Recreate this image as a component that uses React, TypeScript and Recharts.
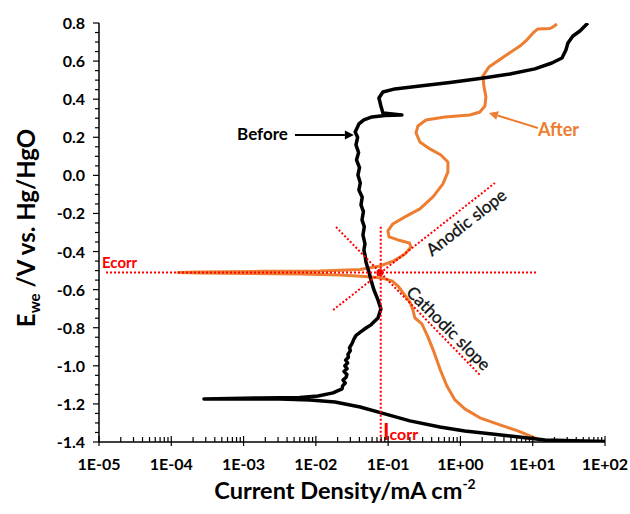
import React from "react"
import { LineChart, Line, XAxis, YAxis, ReferenceLine, ReferenceDot } from "recharts"

// Tafel plot, current density in mA cm-2 vs potential in V (Hg/HgO)
const beforeCurrent = [
  100, 38.4, 14.8, 6.04, 2.56, 1.15, 0.52, 0.2, 0.09, 0.041, 0.0184, 0.0083, 0.00318, 0.00089, 0.000283,
  0.00169, 0.006, 0.0107, 0.0173, 0.023, 0.0235, 0.0255, 0.0238, 0.0262, 0.0269, 0.0245, 0.027, 0.0252,
  0.0275, 0.0258, 0.0282, 0.0278, 0.03, 0.0292, 0.0315, 0.0336, 0.036, 0.0435, 0.05, 0.0578, 0.0723,
  0.0794, 0.0723, 0.0637, 0.0578, 0.0542, 0.0493, 0.048, 0.0462, 0.0478, 0.0448, 0.0468, 0.0435, 0.0455,
  0.0421, 0.0438, 0.0394, 0.0412, 0.0382, 0.0402, 0.0365, 0.039, 0.0359, 0.0378, 0.035, 0.0394, 0.0462,
  0.0597, 0.09, 0.155, 0.0847, 0.0794, 0.0746, 0.0847, 0.124, 0.275, 0.716, 1.86, 4.84, 10.7, 18.4, 25.4,
  28.8, 30.7, 36, 45, 58,
]
const beforePotential = [
  -1.397, -1.394, -1.389, -1.373, -1.357, -1.342, -1.321, -1.289, -1.252, -1.216, -1.19, -1.179, -1.174,
  -1.174, -1.174, -1.169, -1.166, -1.158, -1.142, -1.121, -1.105, -1.09, -1.075, -1.06, -1.045, -1.03,
  -1.015, -1.0, -0.985, -0.97, -0.955, -0.94, -0.92, -0.905, -0.885, -0.86, -0.84, -0.817, -0.8, -0.785,
  -0.749, -0.701, -0.654, -0.602, -0.549, -0.507, -0.455, -0.42, -0.392, -0.36, -0.313, -0.27, -0.234,
  -0.19, -0.155, -0.115, -0.077, -0.04, 0.002, 0.04, 0.081, 0.12, 0.16, 0.2, 0.228, 0.27, 0.291, 0.307,
  0.314, 0.317, 0.328, 0.364, 0.406, 0.438, 0.454, 0.469, 0.488, 0.509, 0.532, 0.559, 0.59, 0.616, 0.658,
  0.695, 0.732, 0.758, 0.8,
]

const afterCurrent = [
  19, 12.6, 9.14, 6.24, 3.52, 1.86, 1.15, 0.84, 0.65, 0.52, 0.43, 0.355, 0.293, 0.235, 0.22, 0.2, 0.166,
  0.137, 0.113, 0.082, 0.0478, 0.0215, 0.006, 0.00123, 0.00025, 0.000124, 0.00025, 0.00169, 0.0114, 0.041,
  0.077, 0.12, 0.171, 0.207, 0.197, 0.137, 0.103, 0.0993, 0.116, 0.171, 0.275, 0.417, 0.573, 0.671, 0.671,
  0.537, 0.378, 0.275, 0.243, 0.258, 0.333, 0.611, 1.35, 1.86, 2.18, 2.25, 2.11, 2.05, 2.48, 4.13, 6.65,
  8.05, 10.1, 11.8, 17.3, 19, 21.6,
]
const afterPotential = [
  -1.4, -1.389, -1.368, -1.342, -1.31, -1.273, -1.226, -1.179, -1.106, -1.016, -0.927, -0.848, -0.78,
  -0.749, -0.707, -0.665, -0.623, -0.581, -0.554, -0.539, -0.531, -0.523, -0.518, -0.515, -0.512, -0.51,
  -0.507, -0.504, -0.502, -0.494, -0.476, -0.449, -0.413, -0.376, -0.355, -0.339, -0.323, -0.292, -0.255,
  -0.218, -0.176, -0.113, -0.045, 0.018, 0.07, 0.107, 0.139, 0.175, 0.223, 0.259, 0.291, 0.307, 0.317,
  0.333, 0.364, 0.412, 0.469, 0.522, 0.569, 0.627, 0.679, 0.706, 0.748, 0.769, 0.771, 0.779, 0.795,
]

// Tafel analysis
const ecorr = -0.51
const icorr = 0.079
const anodicTangent = [{ x: 0.0173, y: -0.707 }, { x: 3.0, y: -0.04 }]
const cathodicTangent = [{ x: 0.019, y: -0.271 }, { x: 1.86, y: -1.048 }]

const xDecades = [1e-5, 1e-4, 1e-3, 1e-2, 1e-1, 1, 10, 100]
const yMajorTicks = [-1.4, -1.2, -1.0, -0.8, -0.6, -0.4, -0.2, 0.0, 0.2, 0.4, 0.6, 0.8]

const before = beforeCurrent.map((i, k) => ({ i, e: beforePotential[k] }))
const after = afterCurrent.map((i, k) => ({ i, e: afterPotential[k] }))

const xTicks = xDecades.flatMap((d, k) =>
  k === xDecades.length - 1 ? [d] : [1, 2, 3, 4, 5, 6, 7, 8, 9].map((m) => d * m)
)
const yTicks = yMajorTicks.flatMap((t, k) =>
  k === yMajorTicks.length - 1 ? [t] : [0, 0.05, 0.1, 0.15].map((s) => Math.round((t + s) * 100) / 100)
)

const FONT = "Lato, 'Open Sans', sans-serif"
const RED = "#ff0000"
const ORANGE = "#ED7D31"

function XTick({ x, y, payload }: any) {
  const v = payload.value
  const p = Math.log10(v)
  const major = Math.abs(p - Math.round(p)) < 1e-6
  const e = Math.round(p)
  const label = `1E${e < 0 ? "-" : "+"}${String(Math.abs(e)).padStart(2, "0")}`
  return (
    <g>
      <line x1={x} x2={x} y1={y - (major ? 6 : 5)} y2={y + (major ? 4 : 0)} stroke="#000" strokeWidth={1.2} />
      {major && (
        <text x={x} y={y + 28} textAnchor="middle" fontSize={16} fontWeight={700} fill="#000" fontFamily={FONT}>
          {label}
        </text>
      )}
    </g>
  )
}

function YTick({ x, y, payload }: any) {
  const v = payload.value
  const major = Math.abs(v * 5 - Math.round(v * 5)) < 1e-6
  return (
    <g>
      <line x1={x - (major ? 6 : 4)} x2={x} y1={y} y2={y} stroke="#000" strokeWidth={1.2} />
      {major && (
        <text x={x - 14} y={y + 6} textAnchor="end" fontSize={16} fontWeight={700} fill="#000" fontFamily={FONT}>
          {v.toFixed(1)}
        </text>
      )}
    </g>
  )
}

const arrow = (color: string) => (p: any) => {
  const { x1, y1, x2, y2 } = p
  const a = Math.atan2(y2 - y1, x2 - x1)
  const L = 9
  const W = 4.5
  const bx = x2 - L * Math.cos(a)
  const by = y2 - L * Math.sin(a)
  const pts = `${x2},${y2} ${bx - W * Math.sin(a)},${by + W * Math.cos(a)} ${bx + W * Math.sin(a)},${by - W * Math.cos(a)}`
  return (
    <g>
      <line x1={x1} y1={y1} x2={bx} y2={by} stroke={color} strokeWidth={2} />
      <polygon points={pts} fill={color} />
    </g>
  )
}

const textAt = (content: React.ReactNode, props: any) => (p: any) => (
  <text x={p.cx} y={p.cy} fontFamily={FONT} {...props}>
    {content}
  </text>
)

export default function App() {
  return (
    <div style={{ position: "absolute", left: 0, top: 0, width: 630, height: 514, background: "#fff", fontFamily: FONT }}>
      <LineChart width={630} height={514} margin={{ top: 23, right: 25, bottom: 0, left: 0 }}>
        <XAxis
          dataKey="i"
          type="number"
          scale="log"
          domain={[1e-5, 100]}
          allowDataOverflow
          ticks={xTicks}
          interval={0}
          tick={<XTick />}
          tickLine={false}
          tickSize={0}
          tickMargin={0}
          height={72}
          axisLine={{ stroke: "#000", strokeWidth: 1.5 }}
        />
        <YAxis
          dataKey="e"
          type="number"
          domain={[-1.4, 0.8]}
          allowDataOverflow
          ticks={yTicks}
          interval={0}
          tick={<YTick />}
          tickLine={false}
          tickSize={0}
          tickMargin={0}
          width={99}
          axisLine={{ stroke: "#000", strokeWidth: 1.5 }}
        />
        <Line data={after} dataKey="e" type="linear" dot={false} stroke={ORANGE} strokeWidth={3} strokeLinejoin="round" isAnimationActive={false} />
        <Line data={before} dataKey="e" type="linear" dot={false} stroke="#000" strokeWidth={3.5} strokeLinejoin="round" isAnimationActive={false} />

        <ReferenceLine segment={[{ x: 1.25e-5, y: ecorr }, { x: 11.7, y: ecorr }]} stroke={RED} strokeWidth={2} strokeDasharray="2 2" />
        <ReferenceLine segment={[{ x: icorr, y: -0.27 }, { x: icorr, y: -1.4 }]} stroke={RED} strokeWidth={2} strokeDasharray="2 2" />
        <ReferenceLine segment={anodicTangent} stroke={RED} strokeWidth={2} strokeDasharray="2 2" />
        <ReferenceLine segment={cathodicTangent} stroke={RED} strokeWidth={2} strokeDasharray="2 2" />
        <ReferenceDot x={0.077} y={ecorr} r={3.5} fill={RED} stroke="none" />

        <ReferenceLine segment={[{ x: 0.00514, y: 0.212 }, { x: 0.0336, y: 0.212 }]} shape={arrow("#000")} />
        <ReferenceLine segment={[{ x: 11.8, y: 0.249 }, { x: 2.48, y: 0.328 }]} shape={arrow(ORANGE)} />

        <ReferenceDot x={1.1e-5} y={-0.486} r={0} shape={textAt("Ecorr", { fill: RED, fontSize: 15, fontWeight: 700 })} />
        <ReferenceDot
          x={0.0847}
          y={-1.389}
          r={0}
          shape={textAt(
            <>
              <tspan fontSize={22}>I</tspan>
              <tspan fontSize={16}>corr</tspan>
            </>,
            { fill: RED, fontWeight: 700 }
          )}
        />
        <ReferenceDot x={0.00411} y={0.186} r={0} shape={textAt("Before", { fill: "#000", fontSize: 17, fontWeight: 700, textAnchor: "end" })} />
        <ReferenceDot x={11.8} y={0.207} r={0} shape={textAt("After", { fill: ORANGE, fontSize: 18, fontWeight: 700 })} />
        <ReferenceDot
          x={1.19}
          y={-0.245}
          r={0}
          shape={(p: any) => (
            <text x={p.cx} y={p.cy} fontFamily={FONT} fontSize={17} fill="#111" stroke="#111" strokeWidth={0.3} textAnchor="middle" dominantBaseline="central" transform={`rotate(-38 ${p.cx} ${p.cy})`}>
              Anodic slope
            </text>
          )}
        />
        <ReferenceDot
          x={0.693}
          y={-0.801}
          r={0}
          shape={(p: any) => (
            <text x={p.cx} y={p.cy} fontFamily={FONT} fontSize={17} fill="#111" stroke="#111" strokeWidth={0.3} textAnchor="middle" dominantBaseline="central" transform={`rotate(45 ${p.cx} ${p.cy})`}>
              Cathodic slope
            </text>
          )}
        />
      </LineChart>

      <div style={{ position: "absolute", left: 0, width: 690, top: 476, textAlign: "center", fontSize: 23.5, fontWeight: 700, color: "#000", whiteSpace: "nowrap" }}>
        Current Density/mA cm<sup style={{ fontSize: 14, verticalAlign: "10px", lineHeight: 0 }}>-2</sup>
      </div>
      <div
        style={{
          position: "absolute",
          left: 25,
          top: 228,
          transform: "translate(-50%, -50%) rotate(-90deg)",
          fontSize: 24,
          fontWeight: 700,
          color: "#000",
          whiteSpace: "nowrap",
        }}
      >
        E<sub style={{ fontSize: 15, verticalAlign: "-5px", lineHeight: 0 }}>we</sub> /V vs. Hg/HgO
      </div>
    </div>
  )
}
